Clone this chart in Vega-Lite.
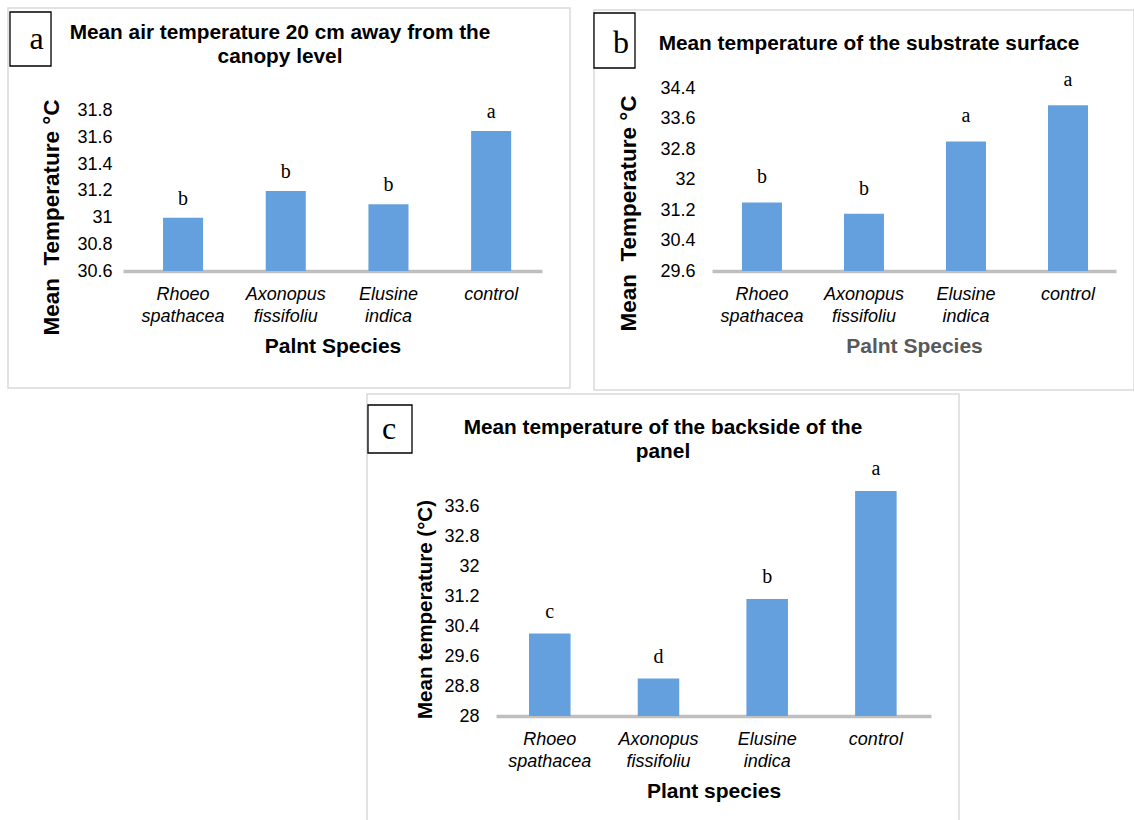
{
  "$schema": "https://vega.github.io/schema/vega-lite/v6.json",
  "padding": {"left": 7, "top": 7, "right": 0, "bottom": 0},
  "background": "white",
  "spacing": 2,
  "config": {
    "font": "Liberation Sans",
    "view": {"stroke": null},
    "title": {"font": "Liberation Sans", "fontSize": 20.8, "fontWeight": "bold", "color": "#000", "lineHeight": 24, "anchor": "middle", "frame": "bounds"},
    "axisX": {"ticks": false, "grid": false, "domainColor": "#bfbfbf", "domainWidth": 3.5, "labelAngle": 0, "labelFontSize": 18, "labelFontStyle": "italic", "labelColor": "#000", "labelLineHeight": 22.5, "labelPadding": 14, "titleFontSize": 21, "titleFontWeight": "bold", "titleColor": "#000", "titlePadding": 10},
    "axisY": {"domain": false, "ticks": false, "grid": false, "labelFontSize": 18, "labelColor": "#000", "titleFontSize": 22.5, "titleFontWeight": "bold", "titleColor": "#000"}
  },
  "datasets": {
    "a": [
      {"species": "Rhoeo spathacea", "temp": 31.0, "group": "b"},
      {"species": "Axonopus fissifoliu", "temp": 31.2, "group": "b"},
      {"species": "Elusine indica", "temp": 31.1, "group": "b"},
      {"species": "control", "temp": 31.65, "group": "a"}
    ],
    "b": [
      {"species": "Rhoeo spathacea", "temp": 31.4, "group": "b"},
      {"species": "Axonopus fissifoliu", "temp": 31.1, "group": "b"},
      {"species": "Elusine indica", "temp": 33.0, "group": "a"},
      {"species": "control", "temp": 33.95, "group": "a"}
    ],
    "c": [
      {"species": "Rhoeo spathacea", "temp": 30.2, "group": "c"},
      {"species": "Axonopus fissifoliu", "temp": 29.0, "group": "d"},
      {"species": "Elusine indica", "temp": 31.12, "group": "b"},
      {"species": "control", "temp": 34.0, "group": "a"}
    ]
  },
  "vconcat": [
    {
      "spacing": 22,
      "hconcat": [
        {
          "width": 419,
          "height": 183,
          "title": {"text": ["Mean air temperature 20 cm away from the", "canopy level"], "offset": -61, "dx": -9},
          "resolve": {"scale": {"x": "independent", "y": "independent"}},
          "layer": [
            {
              "data": {"name": "a"},
              "encoding": {
                "x": {"field": "species", "type": "nominal", "sort": null,
                      "scale": {"paddingInner": 0.61, "paddingOuter": 0.345, "align": 0.565},
                      "axis": {"title": "Palnt Species", "labelExpr": "split(datum.label, ' ')"}},
                "y": {"field": "temp", "type": "quantitative",
                      "scale": {"domain": [30.6, 31.972], "nice": false, "zero": false},
                      "axis": {"title": "Mean \u00a0Temperature °C", "values": [30.6, 30.8, 31, 31.2, 31.4, 31.6, 31.8], "format": ".3~g", "titleY": 129, "titlePadding": 13, "labelPadding": 11}}
              },
              "layer": [
                {"mark": {"type": "bar", "color": "#64a0dd"}, "encoding": {"y2": {"datum": 30.6}}},
                {"mark": {"type": "text", "font": "Liberation Serif", "fontSize": 20, "dy": -13, "baseline": "alphabetic", "color": "#000"}, "encoding": {"text": {"field": "group"}}}
              ]
            },
            {
              "data": {"values": [{"panel": "a"}]},
              "layer": [
                {"mark": {"type": "rect", "fillOpacity": 0, "stroke": "#d9d9d9", "strokeWidth": 1.5},
                 "encoding": {
                   "x": {"datum": -0.2745, "type": "quantitative", "scale": {"domain": [0, 1], "nice": false, "zero": false}, "axis": null},
                   "x2": {"datum": 1.0668},
                   "y": {"datum": 1.4372, "type": "quantitative", "scale": {"domain": [0, 1], "nice": false, "zero": false}, "axis": null},
                   "y2": {"datum": -0.6393}}},
                {"mark": {"type": "rect", "fill": "white", "stroke": "black", "strokeWidth": 1.3},
                 "encoding": {
                   "x": {"datum": -0.2697, "type": "quantitative", "axis": null},
                   "x2": {"datum": -0.1718},
                   "y": {"datum": 1.4153, "type": "quantitative", "axis": null},
                   "y2": {"datum": 1.1202}}},
                {"mark": {"type": "text", "font": "Liberation Serif", "fontSize": 32, "baseline": "alphabetic", "align": "center", "color": "#000"},
                 "encoding": {
                   "x": {"datum": -0.2064, "type": "quantitative", "axis": null},
                   "y": {"datum": 1.2131, "type": "quantitative", "axis": null},
                   "text": {"field": "panel"}}}
              ]
            }
          ]
        },
        {
          "width": 404,
          "height": 183,
          "title": {"text": "Mean temperature of the substrate surface", "offset": -46, "dx": 5},
          "resolve": {"scale": {"x": "independent", "y": "independent"}},
          "layer": [
            {
              "data": {"name": "b"},
              "encoding": {
                "x": {"field": "species", "type": "nominal", "sort": null,
                      "scale": {"paddingInner": 0.608, "paddingOuter": 0.284, "align": 0.517},
                      "axis": {"title": "Palnt Species", "titleColor": "#595959", "labelExpr": "split(datum.label, ' ')"}},
                "y": {"field": "temp", "type": "quantitative",
                      "scale": {"domain": [29.6, 34.4], "nice": false, "zero": false},
                      "axis": {"title": "Mean \u00a0Temperature °C", "values": [29.6, 30.4, 31.2, 32, 32.8, 33.6, 34.4], "format": ".3~g", "titleY": 125, "titlePadding": 19, "labelPadding": 17}}
              },
              "layer": [
                {"mark": {"type": "bar", "color": "#64a0dd"}, "encoding": {"y2": {"datum": 29.6}}},
                {"mark": {"type": "text", "font": "Liberation Serif", "fontSize": 20, "dy": -19, "baseline": "alphabetic", "color": "#000"}, "encoding": {"text": {"field": "group"}}}
              ]
            },
            {
              "data": {"values": [{"panel": "b"}]},
              "layer": [
                {"mark": {"type": "rect", "fillOpacity": 0, "stroke": "#d9d9d9", "strokeWidth": 1.5},
                 "encoding": {
                   "x": {"datum": -0.2921, "type": "quantitative", "scale": {"domain": [0, 1], "nice": false, "zero": false}, "axis": null},
                   "x2": {"datum": 1.0446},
                   "y": {"datum": 1.4262, "type": "quantitative", "scale": {"domain": [0, 1], "nice": false, "zero": false}, "axis": null},
                   "y2": {"datum": -0.6503}}},
                {"mark": {"type": "rect", "fill": "white", "stroke": "black", "strokeWidth": 1.3},
                 "encoding": {
                   "x": {"datum": -0.2921, "type": "quantitative", "axis": null},
                   "x2": {"datum": -0.1906},
                   "y": {"datum": 1.4098, "type": "quantitative", "axis": null},
                   "y2": {"datum": 1.1093}}},
                {"mark": {"type": "text", "font": "Liberation Serif", "fontSize": 32, "baseline": "alphabetic", "align": "center", "color": "#000"},
                 "encoding": {
                   "x": {"datum": -0.2252, "type": "quantitative", "axis": null},
                   "y": {"datum": 1.1913, "type": "quantitative", "axis": null},
                   "text": {"field": "panel"}}}
              ]
            }
          ]
        }
      ]
    },
    {
      "spacing": 0,
      "hconcat": [
        {"width": 243, "height": 10, "data": {"values": []}, "mark": "point"},
        {
          "width": 435,
          "height": 240,
          "title": {"text": ["Mean temperature of the backside of the", "panel"], "offset": -70, "dx": 0},
          "resolve": {"scale": {"x": "independent", "y": "independent"}},
          "layer": [
            {
              "data": {"name": "c"},
              "encoding": {
                "x": {"field": "species", "type": "nominal", "sort": null,
                      "scale": {"paddingInner": 0.618, "paddingOuter": 0.31, "align": 0.49},
                      "axis": {"title": "Plant species", "labelExpr": "split(datum.label, ' ')"}},
                "y": {"field": "temp", "type": "quantitative",
                      "scale": {"domain": [28, 34.4], "nice": false, "zero": false},
                      "axis": {"title": "Mean temperature (°C)", "titleFontSize": 20.5, "values": [28, 28.8, 29.6, 30.4, 31.2, 32, 32.8, 33.6], "format": ".3~g", "titleY": 133, "titlePadding": 8, "labelPadding": 17}}
              },
              "layer": [
                {"mark": {"type": "bar", "color": "#64a0dd"}, "encoding": {"y2": {"datum": 28}}},
                {"mark": {"type": "text", "font": "Liberation Serif", "fontSize": 20, "dy": -16, "baseline": "alphabetic", "color": "#000"}, "encoding": {"text": {"field": "group"}}}
              ]
            },
            {
              "data": {"values": [{"panel": "c"}]},
              "layer": [
                {"mark": {"type": "rect", "fillOpacity": 0, "stroke": "#d9d9d9", "strokeWidth": 1.5},
                 "encoding": {
                   "x": {"datum": -0.2966, "type": "quantitative", "scale": {"domain": [0, 1], "nice": false, "zero": false}, "axis": null},
                   "x2": {"datum": 1.0644},
                   "y": {"datum": 1.3417, "type": "quantitative", "scale": {"domain": [0, 1], "nice": false, "zero": false}, "axis": null},
                   "y2": {"datum": -0.45}}},
                {"mark": {"type": "rect", "fill": "white", "stroke": "black", "strokeWidth": 1.3},
                 "encoding": {
                   "x": {"datum": -0.2943, "type": "quantitative", "axis": null},
                   "x2": {"datum": -0.1931},
                   "y": {"datum": 1.2958, "type": "quantitative", "axis": null},
                   "y2": {"datum": 1.0958}}},
                {"mark": {"type": "text", "font": "Liberation Serif", "fontSize": 32, "baseline": "alphabetic", "align": "center", "color": "#000"},
                 "encoding": {
                   "x": {"datum": -0.246, "type": "quantitative", "axis": null},
                   "y": {"datum": 1.1542, "type": "quantitative", "axis": null},
                   "text": {"field": "panel"}}}
              ]
            }
          ]
        }
      ]
    }
  ]
}
